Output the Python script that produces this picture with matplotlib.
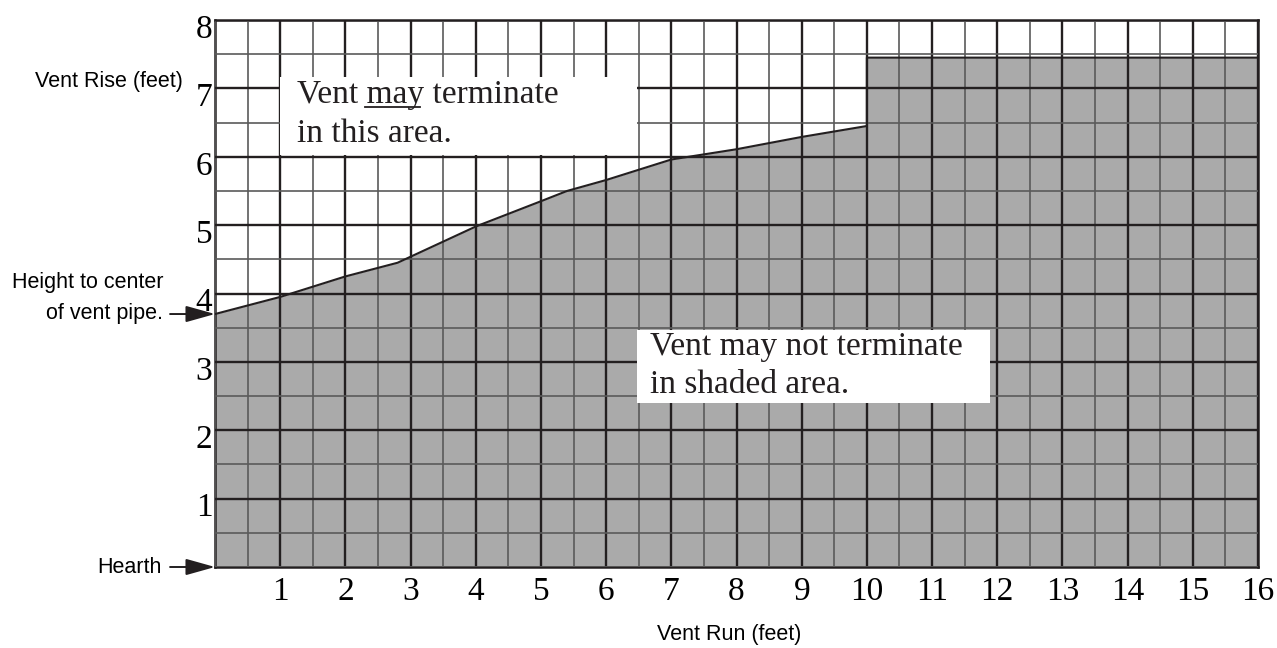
import matplotlib.pyplot as plt
from matplotlib.patches import Rectangle
from matplotlib.ticker import MultipleLocator
from matplotlib.transforms import ScaledTranslation

# boundary of the shaded (no-termination) area, feet
run_ft = [0, 1, 2, 2.8, 4, 5, 5.4, 6, 7, 8, 9, 10, 10, 16]
rise_ft = [3.7, 3.95, 4.25, 4.45, 4.98, 5.35, 5.5, 5.66, 5.96, 6.11, 6.29, 6.45, 7.45, 7.45]

x_ticks = list(range(1, 17))
y_ticks = list(range(1, 9))
pipe_height = 3.7
hearth = 0

serif = ['Liberation Serif', 'DejaVu Serif']
sans = ['Liberation Sans', 'DejaVu Sans']
ink = '#231f20'

fig = plt.figure(figsize=(12.77, 6.48), dpi=100)
ax = fig.add_axes([0.1684, 0.125, 0.8167, 0.8441])

ax.fill_between(run_ft, rise_ft, 0, color='#aaaaaa', lw=0, zorder=1)
ax.plot(run_ft, rise_ft, color=ink, lw=1.5, zorder=3)

ax.set_xlim(0, 16)
ax.set_ylim(0, 8)
ax.set_axisbelow(False)
ax.xaxis.set_minor_locator(MultipleLocator(0.5))
ax.yaxis.set_minor_locator(MultipleLocator(0.5))
ax.grid(which='major', color=ink, lw=1.7, zorder=2)
ax.grid(which='minor', color='#5a5a5a', lw=1.2, zorder=2)
ax.tick_params(which='both', length=0)
ax.set_xticks(x_ticks)
ax.set_xticklabels([str(v) for v in x_ticks], fontfamily=serif, fontsize=24)
ax.set_yticks(y_ticks)
ax.set_yticklabels([str(v) for v in y_ticks], fontfamily=serif, fontsize=24)
ax.tick_params(axis='x', pad=7)
ax.tick_params(axis='y', pad=2)
shift = ScaledTranslation(0, -6 / 100, fig.dpi_scale_trans)
for lab in ax.get_yticklabels():
    lab.set_transform(lab.get_transform() + shift)
for s in ax.spines.values():
    s.set_color(ink)
    s.set_linewidth(1.8)

# white label boxes laid over the grid
ax.add_patch(Rectangle((1.0, 6.02), 5.47, 1.14, fc='white', ec='none', zorder=4))
ax.add_patch(Rectangle((6.47, 2.40), 5.42, 1.06, fc='white', ec='none', zorder=4))

txt = dict(fontfamily=serif, fontsize=24, color=ink, ha='left', va='baseline', zorder=5)
ax.text(1.26, 6.78, 'Vent may terminate', **txt)
ax.text(1.26, 6.21, 'in this area.', **txt)
ax.text(6.67, 3.10, 'Vent may not terminate', **txt)
ax.text(6.67, 2.54, 'in shaded area.', **txt)

# underline "may" by measuring the first line
fig.canvas.draw()
r = fig.canvas.get_renderer()
x_start = ax.transData.transform((1.26, 6.78))
probe = dict(fontfamily=serif, fontsize=24)
p_pre = ax.text(0, 0, 'Vent ', **probe)
p_may = ax.text(0, 0, 'may', **probe)
w_pre = p_pre.get_window_extent(r).width
w_may = p_may.get_window_extent(r).width
p_pre.remove()
p_may.remove()
y_ul = x_start[1] - 4
inv = fig.transFigure.inverted()
p0 = inv.transform((x_start[0] + w_pre - 2, y_ul))
p1 = inv.transform((x_start[0] + w_pre + w_may - 4, y_ul))
fig.add_artist(plt.Line2D([p0[0], p1[0]], [p0[1], p1[1]], color=ink, lw=1.3, zorder=6))

# labels outside the grid
fig.text(183 / 1277, 1 - 87 / 648, 'Vent Rise (feet)', fontfamily=sans, fontsize=15.5,
         ha='right', va='baseline')
fig.text(729 / 1277, 1 - 640 / 648, 'Vent Run (feet)', fontfamily=sans, fontsize=15.5,
         ha='center', va='baseline')
fig.text(163 / 1277, 1 - 288 / 648, 'Height to center', fontfamily=sans, fontsize=15.5,
         ha='right', va='baseline')
fig.text(163 / 1277, 1 - 319 / 648, 'of vent pipe.', fontfamily=sans, fontsize=15.5,
         ha='right', va='baseline')
fig.text(162 / 1277, 1 - 573 / 648, 'Hearth', fontfamily=sans, fontsize=15.5,
         ha='right', va='baseline')

arrow = dict(arrowstyle='-|>,head_length=1.0,head_width=0.28', color=ink, lw=1.4,
             mutation_scale=18, shrinkA=0, shrinkB=0)
for y_mark in (pipe_height, hearth):
    ax.annotate('', xy=(0, y_mark), xycoords='data', xytext=(-45, 0),
                textcoords='offset pixels', annotation_clip=False, arrowprops=arrow)

fig.savefig('out.png', dpi=100)
